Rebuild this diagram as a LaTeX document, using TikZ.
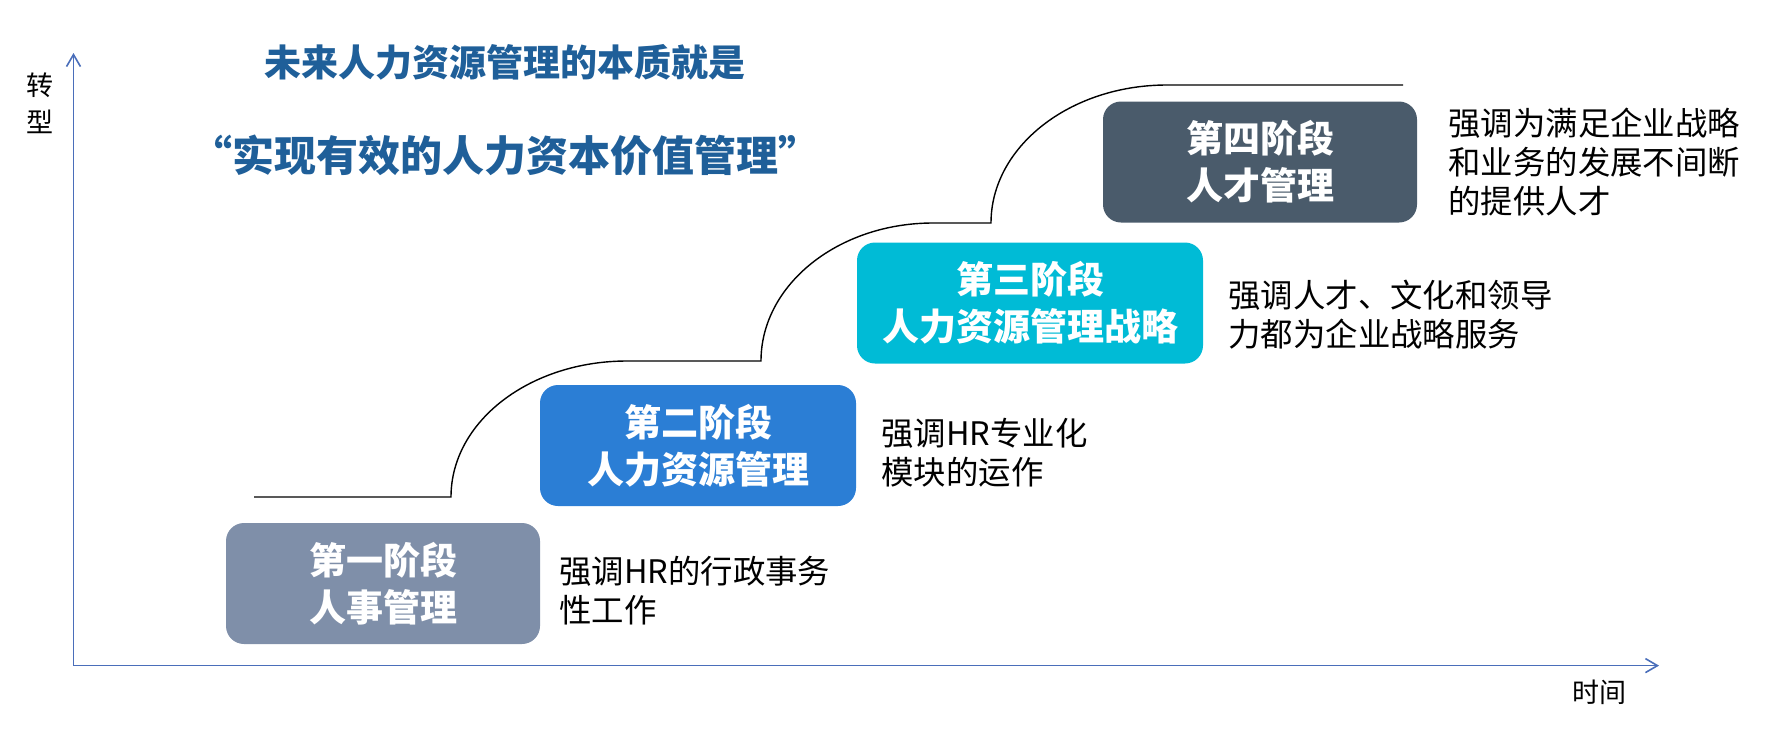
\documentclass[tikz,border=0pt]{standalone}
\usepackage{fontspec}
\setmainfont{Noto Sans CJK SC}
\usetikzlibrary{arrows.meta}
\definecolor{titleblue}{HTML}{1F5F99}
\definecolor{axisblue}{HTML}{4A6EBA}
\definecolor{stageA}{HTML}{7F8FA9}
\definecolor{stageB}{HTML}{2B7ED5}
\definecolor{stageC}{HTML}{00BBD6}
\definecolor{stageD}{HTML}{4A5B6B}
\begin{document}
\begin{tikzpicture}[x=0.5pt,y=-0.5pt,
  stagebox/.style={rounded corners=9pt, text=white, align=center,
    font=\fontsize{18.5}{23.5}\selectfont\bfseries, minimum height=60.5pt, inner sep=0pt},
  desc/.style={anchor=west, align=left, inner sep=0pt, font=\fontsize{16.2}{19.5}\selectfont},
  titletext/.style={text=titleblue, inner sep=0pt},
  axislabel/.style={inner sep=0pt, align=center, font=\fontsize{13.5}{18.5}\selectfont},
  axisline/.style={draw=axisblue, line width=0.8pt, -{Straight Barb[length=6pt,width=7pt]}},
  stepline/.style={draw=black, line width=0.7pt}]
\useasboundingbox (0,0) rectangle (1772,730);

% axes
\coordinate (O) at (73.5,665.6);
\coordinate (ytop) at (73.5,53);
\coordinate (xend) at (1659,665.6);
\draw[axisline] (O) -- (ytop);
\draw[axisline] (O) -- (xend);
\node[axislabel] (ylab) at (40,103) {转\\型};
\node[axislabel] (xlab) at (1599,692) {时间};

% titles
\node[titletext, font=\fontsize{18.5}{22}\selectfont\bfseries] (t1) at (505,62) {未来人力资源管理的本质就是};
\node[titletext, font=\fontsize{21}{25}\selectfont\bfseries] (t2) at (505,155) {“实现有效的人力资本价值管理”};

% step line
\draw[stepline] (254,497) -- (451,497)
  .. controls (451,421.4) and (529.8,361) .. (627,361) -- (761,361)
  .. controls (761,284.8) and (838.1,223) .. (933,223) -- (991,223)
  .. controls (991,146.8) and (1069.8,85) .. (1167,85) -- (1403,85);

% stages
\node[stagebox, fill=stageA, minimum width=157pt] (s1) at (383,583.5) {第一阶段\\人事管理};
\node[stagebox, fill=stageB, minimum width=158pt] (s2) at (698,445.5) {第二阶段\\人力资源管理};
\node[stagebox, fill=stageC, minimum width=173pt] (s3) at (1030,303) {第三阶段\\人力资源管理战略};
\node[stagebox, fill=stageD, minimum width=157pt] (s4) at (1260,162) {第四阶段\\人才管理};

% descriptions
\node[desc] (d1) at (559,590.5) {强调HR的行政事务\\性工作};
\node[desc] (d2) at (881,453) {强调HR专业化\\模块的运作};
\node[desc] (d3) at (1228,314.5) {强调人才、文化和领导\\力都为企业战略服务};
\node[desc] (d4) at (1448,162.5) {强调为满足企业战略\\和业务的发展不间断\\的提供人才};
\end{tikzpicture}
\end{document}
